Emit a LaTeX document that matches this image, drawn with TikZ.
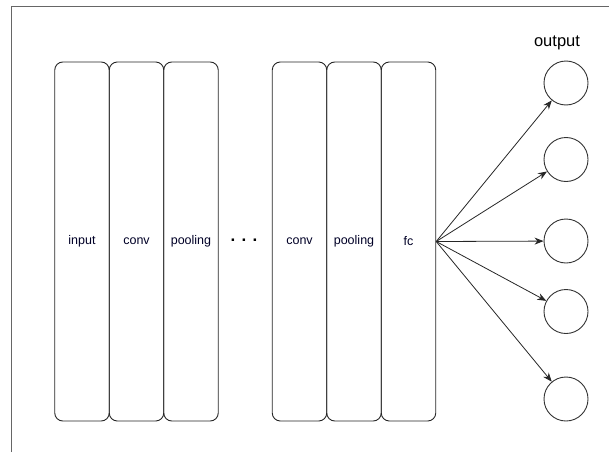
\documentclass[tikz,border=0pt]{standalone}
\usepackage{fontspec}
\setmainfont{Liberation Sans}
\usetikzlibrary{arrows.meta}
\begin{document}
\begin{tikzpicture}[x=1pt,y=-1pt,
  layer/.style={draw=black!85,line width=0.9pt,rounded corners=8pt,minimum width=54.5pt,minimum height=359pt,inner sep=0pt,font=\fontsize{12.5}{14}\selectfont,text=black!85!blue},
  outnode/.style={draw=black!80,line width=0.9pt,circle,minimum size=44pt,inner sep=0pt},
  conn/.style={draw=black!85,line width=0.8pt,-{Stealth[length=9pt,width=7pt]}}]
\useasboundingbox (0,0) rectangle (609,452);
\draw[line width=1pt,black!60] (11.5,452) -- (11.5,7) -- (609,7);
\node[layer] (in) at (82,241.5) {input};
\node[layer] (c1) at (136.5,241.5) {conv};
\node[layer] (p1) at (191,241.5) {pooling};
\node (dots) at (244,240) {\fontsize{17}{20}\selectfont\textbf{. . .}};
\node[layer] (c2) at (299.5,241.5) {conv};
\node[layer] (p2) at (354,241.5) {pooling};
\node[layer] (fc) at (408.5,241.5) {fc};
\node[outnode] (o1) at (566,83) {};
\node[outnode] (o2) at (566,159.5) {};
\node[outnode] (o3) at (566,241) {};
\node[outnode] (o4) at (566,311.5) {};
\node[outnode] (o5) at (566,399) {};
\node (lbl) at (557,43) {\fontsize{16.5}{19}\selectfont output};
\foreach \o in {o1,o2,o3,o4,o5} \draw[conn] (fc.east) -- (\o);
\end{tikzpicture}
\end{document}
